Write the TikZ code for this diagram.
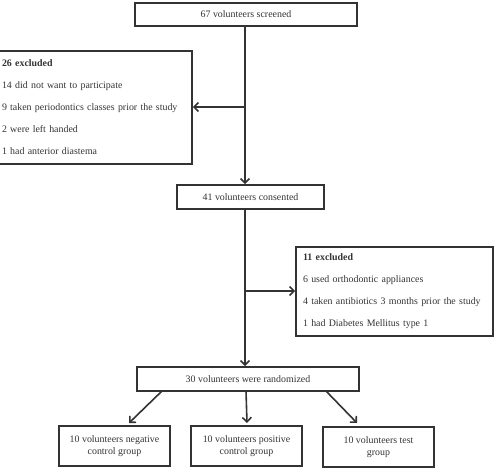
\documentclass[tikz,border=0pt]{standalone}
\usepackage{fontspec}
\setmainfont{Liberation Serif}
\usetikzlibrary{arrows.meta}
\begin{document}
\begin{tikzpicture}[x=1pt,y=-1pt,
  ink/.style={draw=black!80, line width=1.6pt},
  box/.style={ink, rectangle, inner sep=0pt, text=black!80, font=\fontsize{9.9}{12.5}\selectfont, align=center},
  exbox/.style={ink, rectangle, inner xsep=7pt, inner ysep=0pt, text=black!80, font=\fontsize{9.9}{22}\selectfont, align=left},
  arr/.style={draw=black!80, line width=1.6pt, -{Straight Barb[length=4.5pt,width=9pt,line width=1.6pt]}}]
\useasboundingbox (0,0) rectangle (500,468);
\node[box, minimum width=222pt, minimum height=23pt] (top) at (246,14.5) {67 volunteers screened};
\node[exbox, minimum width=197pt, minimum height=113pt, text width=183pt] (ex1) at (93.5,107.5)
  {\textbf{26 excluded}\\14 did not want to participate\\9 taken periodontics classes prior the study\\2 were left handed\\1 had anterior diastema};
\node[box, minimum width=147pt, minimum height=24pt] (cons) at (250.5,197) {41 volunteers consented};
\node[exbox, minimum width=197pt, minimum height=89pt, text width=183pt] (ex2) at (394.5,291.5)
  {\textbf{11 excluded}\\6 used orthodontic appliances\\4 taken antibiotics 3 months prior the study\\1 had Diabetes Mellitus type 1};
\node[box, minimum width=222pt, minimum height=24pt] (rand) at (248,379) {30 volunteers were randomized};
\node[box, minimum width=111pt, minimum height=40pt] (g1) at (114.5,446) {10 volunteers negative\\control group};
\node[box, minimum width=111pt, minimum height=40pt] (g2) at (246.5,446) {10 volunteers positive\\control group};
\node[box, minimum width=111pt, minimum height=40pt] (g3) at (378.5,447) {10 volunteers test\\group};
\coordinate (j1) at (245,107);
\coordinate (j2) at (245,291);
\draw[arr] (top.south -| j1) -- (cons.north -| j1);
\draw[arr] (j1) -- (ex1.east |- j1);
\draw[arr] (cons.south -| j2) -- (rand.north -| j2);
\draw[arr] (j2) -- (ex2.west |- j2);
\coordinate (s1) at (162,391);
\coordinate (e1) at (129,423);
\coordinate (s2) at (246,391);
\coordinate (e2) at (247,423);
\coordinate (s3) at (326,391);
\coordinate (e3) at (357,423);
\draw[arr] (s1) -- (e1);
\draw[arr] (s2) -- (e2);
\draw[arr] (s3) -- (e3);
\end{tikzpicture}
\end{document}
